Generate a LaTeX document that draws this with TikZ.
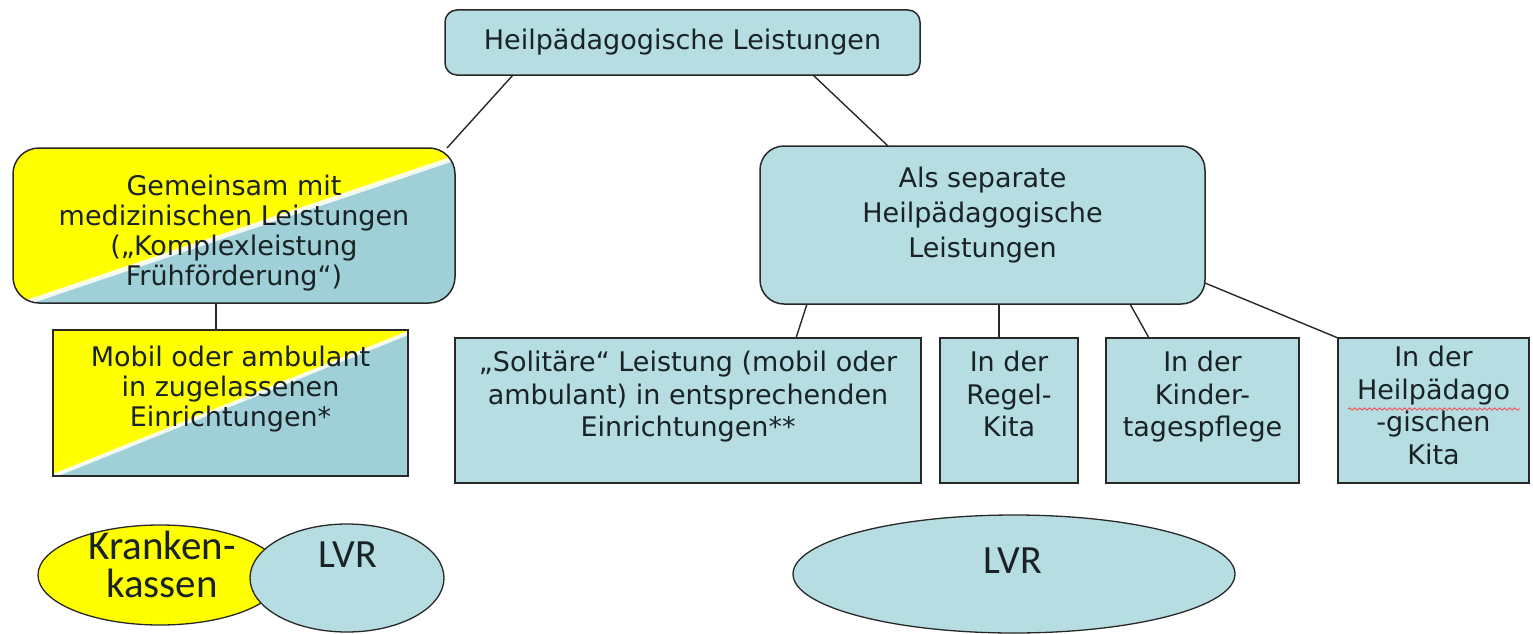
\documentclass[tikz,border=0pt]{standalone}
\usepackage{fontspec}
\setmainfont{DejaVu Sans}
\newfontfamily\calibfont{Carlito}
\usetikzlibrary{positioning,calc,shapes.geometric,backgrounds,decorations.pathmorphing}
\definecolor{lvrteal}{RGB}{181,221,226}
\definecolor{splitteal}{RGB}{160,208,215}
\definecolor{kkyellow}{RGB}{255,255,0}
\definecolor{rim}{RGB}{40,40,40}
\definecolor{ink}{RGB}{25,35,38}

\begin{document}
\begin{tikzpicture}[x=1pt,y=-1pt]
\tikzstyle{every node}=[inner sep=0pt,outer sep=0pt,text=ink]
\tikzstyle{rbox}=[draw=rim,line width=1.5pt,fill=lvrteal,rounded corners=24pt]
\tikzstyle{sbox}=[draw=rim,line width=1.5pt,fill=lvrteal]
\tikzstyle{btxt}=[align=center,anchor=north,font=\fontsize{27}{32.5}\selectfont]
\tikzstyle{oval}=[draw=rim,line width=1.3pt,ellipse]
\tikzstyle{link}=[draw=rim,line width=1.4pt]
\useasboundingbox (0,0) rectangle (1533,634);

\path (682.5,42.5) node[rbox,rounded corners=12pt,minimum width=475,minimum height=65] (hp) {\fontsize{27}{30}\selectfont Heilpädagogische Leistungen};

\path (234,225.5) node[rbox,fill=none,rounded corners=26pt,minimum width=442,minimum height=155] (gm) {};
\path (234,175) node[btxt,font=\fontsize{27}{30}\selectfont] (gmtxt) {Gemeinsam mit\\medizinischen Leistungen\\(„Komplexleistung\\Frühförderung“)};
\begin{scope}[on background layer]
\begin{scope}
\clip[rounded corners=26pt] (gm.north west) rectangle (gm.south east);
\fill[splitteal] (gm.north west) rectangle (gm.south east);
\fill[kkyellow] (13,148) -- (455,148) -- (455,158) -- (13,307) -- cycle;
\draw[white,line width=5pt,opacity=.85] (13,307) -- (455,158);
\end{scope}
\end{scope}

\path (230.5,403) node[sbox,fill=none,minimum width=355,minimum height=146] (mb) {};
\path (230.5,346) node[btxt,font=\fontsize{27}{30}\selectfont] (mbtxt) {Mobil oder ambulant\\in zugelassenen\\Einrichtungen*};
\begin{scope}[on background layer]
\fill[splitteal] (mb.north west) rectangle (mb.south east);
\fill[kkyellow] (53,330) -- (408,330) -- (408,333) -- (53,476) -- cycle;
\draw[white,line width=4pt,opacity=.85] (53,476) -- (408,333);
\end{scope}

\path (982.5,225) node[rbox,minimum width=445,minimum height=158] (sp) {};
\path (982.5,167) node[btxt,font=\fontsize{27}{35}\selectfont] (sptxt) {Als separate\\Heilpädagogische\\Leistungen};

\path (688,410.5) node[sbox,minimum width=466,minimum height=145] (so) {};
\path (688,351) node[btxt] (sotxt) {„Solitäre“ Leistung (mobil oder\\ambulant) in entsprechenden\\Einrichtungen**};
\path (1009,410.5) node[sbox,minimum width=138,minimum height=145] (rk) {};
\path (1009,351) node[btxt] (rktxt) {In der\\Regel-\\Kita};
\path (1202.5,410.5) node[sbox,minimum width=193,minimum height=145] (kt) {};
\path (1202.5,351) node[btxt] (kttxt) {In der\\Kinder-\\tagespflege};
\path (1433.5,410.5) node[sbox,minimum width=191,minimum height=145] (hk) {};
\path (1433.5,346) node[btxt] (hktxt) {In der\\Heilpädago\\-gischen\\Kita};
\draw[red!75,line width=.8pt,decorate,decoration={snake,amplitude=1.2pt,segment length=5pt}] (1348,409) -- (1520,409);

\path (160,575) node[oval,fill=kkyellow,minimum width=244,minimum height=100] (kk) {};
\path (347,578) node[oval,fill=lvrteal,minimum width=194,minimum height=108] (lv1) {};
\path (1014,574) node[oval,fill=lvrteal,minimum width=442,minimum height=118] (lv2) {};
\path (162,564) node[align=center,font=\calibfont\fontsize{41}{38}\selectfont] (kktxt) {Kranken-\\kassen};
\path (348,555) node[font=\calibfont\fontsize{40}{44}\selectfont] (lv1txt) {LVR};
\path (1013,561) node[font=\calibfont\fontsize{40}{44}\selectfont] (lv2txt) {LVR};

\draw[link] ([xshift=68]hp.south west) -- ([xshift=-8]gm.north east);
\draw[link] ([xshift=-107]hp.south east) -- ([xshift=128]sp.north west);
\draw[link] ([xshift=-18]gm.south) -- ([xshift=-18]gm.south |- mb.north);
\draw[link] ([xshift=47]sp.south west) -- ([xshift=341]so.north west);
\draw[link] ([xshift=239]sp.south west) -- ([xshift=-10]rk.north);
\draw[link] ([xshift=370]sp.south west) -- ([xshift=43]kt.north west);
\draw[link] ([yshift=-58]sp.east) -- (hk.north west);
\end{tikzpicture}
\end{document}
